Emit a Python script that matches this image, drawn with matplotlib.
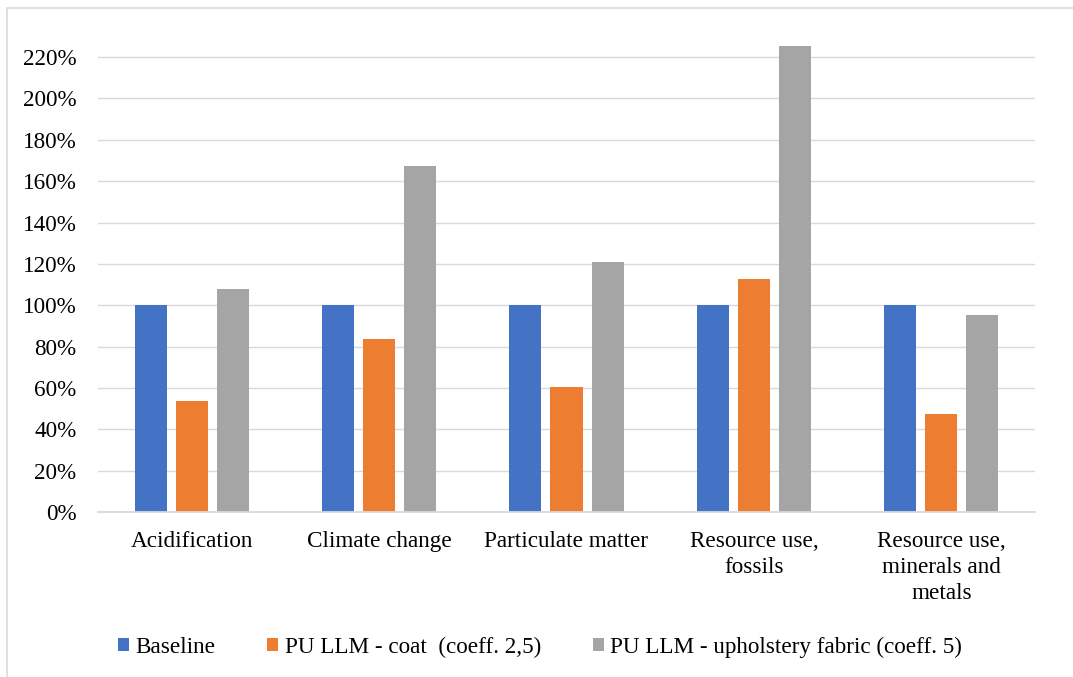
import numpy as np
import matplotlib.pyplot as plt
from matplotlib.patches import Rectangle

categories = ['Acidification', 'Climate change', 'Particulate matter',
              'Resource use,\nfossils', 'Resource use,\nminerals and\nmetals']
baseline = [1.00, 1.00, 1.00, 1.00, 1.00]
coat = [0.538, 0.837, 0.603, 1.127, 0.474]
fabric = [1.077, 1.673, 1.207, 2.252, 0.951]
series_names = ['Baseline', 'PU LLM - coat  (coeff. 2,5)',
                'PU LLM - upholstery fabric (coeff. 5)']
colors = ['#4472C4', '#ED7D31', '#A5A5A5']
yticks = [0, 0.2, 0.4, 0.6, 0.8, 1.0, 1.2, 1.4, 1.6, 1.8, 2.0, 2.2]

plt.rcParams['font.family'] = ['Liberation Serif', 'DejaVu Serif']

fig = plt.figure(figsize=(10.73, 6.77), dpi=100)
ax = fig.add_axes([98/1073, 1 - 512/677, (1035 - 98)/1073, (512 - 36.4)/677])

# chart frame (runs off the right/bottom edge like the source)
fig.patches.append(Rectangle((7/1073, -0.2), 1.2, 1.2 - 7.5/677,
                             transform=fig.transFigure, fill=False,
                             edgecolor='#d9d9d9', linewidth=1.2))

x = np.arange(len(categories))
w = 0.171
step = 0.219
handles = []
for i, (vals, c) in enumerate(zip([baseline, coat, fabric], colors)):
    b = ax.bar(x + (i - 1)*step, vals, width=w, color=c, zorder=3,
               label=series_names[i])
    handles.append(b)

ax.set_xlim(-0.5, len(categories) - 0.5)
ax.set_ylim(0, 2.3)
ax.set_yticks(yticks)
ax.set_yticklabels(['%d%%' % round(v*100) for v in yticks])
ax.set_xticks(x)
ax.set_xticklabels(categories, linespacing=1.3)
ax.tick_params(axis='y', length=0, pad=15.5, labelsize=16.7)
ax.tick_params(axis='x', length=0, pad=14, labelsize=16.7)
ax.grid(axis='y', color='#d9d9d9', linewidth=1.0, zorder=0)
for s in ['top', 'right', 'left']:
    ax.spines[s].set_visible(False)
ax.spines['bottom'].set_color('#d9d9d9')
ax.spines['bottom'].set_linewidth(1.3)
ax.spines['bottom'].set_zorder(4)

fig.legend(handles=handles, loc='center', bbox_to_anchor=(540/1073, 1 - 647/677),
           ncol=3, frameon=False, fontsize=16.7, handlelength=0.48,
           handleheight=0.48, handletextpad=0.26, columnspacing=2.25)

fig.savefig('out.png', dpi=100)
